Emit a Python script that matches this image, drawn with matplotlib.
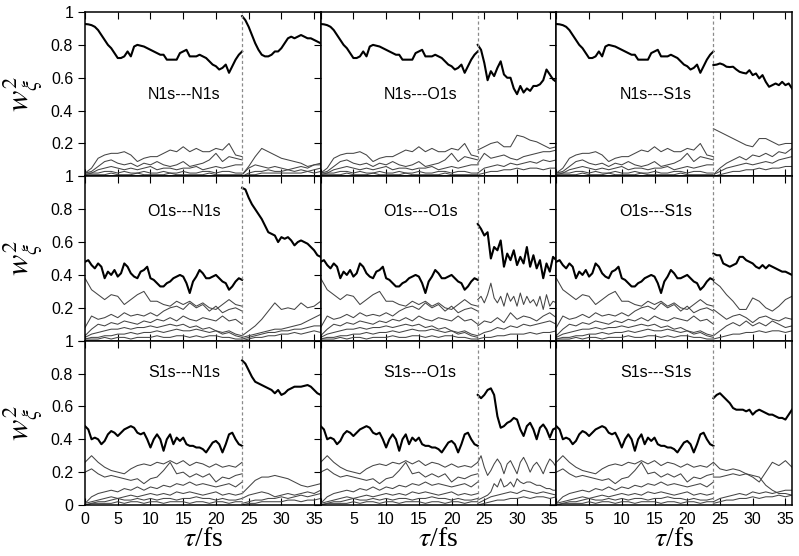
import numpy as np
import matplotlib
matplotlib.use("Agg")
import matplotlib.pyplot as plt

# core-hole pairs: first hole (rows), second hole (columns)
HOLES = ["N1s", "O1s", "S1s"]
T_SWITCH = 24.0
T_END = 36.0

# ---- first hole, 0..24 fs (same curves for every panel in a row) ----
# dominant weight, 0.5 fs steps
n1s_left_main = [0.927, 0.925, 0.92, 0.91, 0.89, 0.86, 0.83, 0.80, 0.78, 0.75,
                 0.72, 0.72, 0.73, 0.76, 0.73, 0.79, 0.80, 0.795, 0.79, 0.78,
                 0.77, 0.76, 0.75, 0.74, 0.74, 0.71, 0.71, 0.71, 0.71, 0.75,
                 0.76, 0.77, 0.73, 0.73, 0.73, 0.74, 0.73, 0.72, 0.70, 0.68,
                 0.67, 0.65, 0.66, 0.68, 0.63, 0.67, 0.71, 0.74, 0.76]
o1s_left_main = [0.48, 0.49, 0.46, 0.44, 0.47, 0.45, 0.38, 0.42, 0.40, 0.43,
                 0.39, 0.41, 0.47, 0.45, 0.41, 0.39, 0.38, 0.42, 0.43, 0.45,
                 0.38, 0.37, 0.35, 0.33, 0.33, 0.35, 0.36, 0.38, 0.39, 0.40,
                 0.39, 0.35, 0.29, 0.36, 0.39, 0.43, 0.41, 0.38, 0.38, 0.39,
                 0.40, 0.38, 0.36, 0.35, 0.31, 0.33, 0.36, 0.38, 0.37]
s1s_left_main = [0.48, 0.46, 0.40, 0.41, 0.40, 0.37, 0.39, 0.43, 0.45, 0.44,
                 0.42, 0.44, 0.46, 0.47, 0.48, 0.47, 0.44, 0.43, 0.44, 0.40,
                 0.35, 0.40, 0.43, 0.40, 0.33, 0.40, 0.43, 0.37, 0.41, 0.39,
                 0.41, 0.37, 0.36, 0.36, 0.35, 0.35, 0.34, 0.32, 0.35, 0.38,
                 0.39, 0.37, 0.32, 0.37, 0.43, 0.44, 0.40, 0.37, 0.36]

# minor weights, 1 fs steps
n1s_left_minor = [
    [0.02, 0.05, 0.11, 0.13, 0.14, 0.14, 0.15, 0.13, 0.09, 0.11, 0.12, 0.12, 0.14,
     0.16, 0.15, 0.18, 0.15, 0.17, 0.15, 0.15, 0.17, 0.16, 0.20, 0.13, 0.12],
    [0.02, 0.03, 0.06, 0.09, 0.10, 0.08, 0.07, 0.08, 0.06, 0.08, 0.07, 0.09, 0.07,
     0.06, 0.07, 0.09, 0.06, 0.07, 0.08, 0.10, 0.14, 0.09, 0.12, 0.11, 0.10],
    [0.02, 0.02, 0.04, 0.05, 0.06, 0.05, 0.04, 0.05, 0.04, 0.05, 0.06, 0.04, 0.05,
     0.05, 0.04, 0.05, 0.05, 0.06, 0.04, 0.05, 0.06, 0.05, 0.06, 0.07, 0.07],
    [0.01, 0.02, 0.02, 0.03, 0.03, 0.02, 0.03, 0.02, 0.02, 0.03, 0.02, 0.02, 0.03,
     0.02, 0.02, 0.03, 0.02, 0.02, 0.03, 0.03, 0.02, 0.03, 0.03, 0.02, 0.02],
    [0.01, 0.01, 0.01, 0.01, 0.02, 0.01, 0.01, 0.01, 0.02, 0.01, 0.01, 0.01, 0.01,
     0.02, 0.01, 0.01, 0.01, 0.01, 0.01, 0.02, 0.01, 0.01, 0.01, 0.01, 0.01],
]
o1s_left_minor = [
    [0.38, 0.31, 0.28, 0.25, 0.28, 0.27, 0.22, 0.25, 0.28, 0.30, 0.24, 0.24, 0.22,
     0.21, 0.24, 0.22, 0.24, 0.21, 0.23, 0.20, 0.19, 0.22, 0.25, 0.22, 0.21],
    [0.08, 0.15, 0.13, 0.14, 0.16, 0.14, 0.17, 0.15, 0.16, 0.15, 0.17, 0.15, 0.18,
     0.20, 0.21, 0.19, 0.23, 0.20, 0.22, 0.18, 0.21, 0.17, 0.19, 0.20, 0.18],
    [0.03, 0.07, 0.10, 0.09, 0.11, 0.10, 0.12, 0.11, 0.10, 0.12, 0.11, 0.13, 0.12,
     0.14, 0.12, 0.15, 0.13, 0.12, 0.14, 0.13, 0.12, 0.15, 0.12, 0.13, 0.10],
    [0.02, 0.04, 0.05, 0.06, 0.07, 0.07, 0.08, 0.07, 0.08, 0.08, 0.09, 0.08, 0.09,
     0.10, 0.09, 0.10, 0.08, 0.09, 0.07, 0.08, 0.06, 0.05, 0.06, 0.04, 0.03],
    [0.01, 0.02, 0.02, 0.03, 0.03, 0.04, 0.04, 0.05, 0.04, 0.05, 0.05, 0.06, 0.05,
     0.06, 0.07, 0.06, 0.06, 0.07, 0.06, 0.05, 0.06, 0.04, 0.05, 0.03, 0.02],
    [0.01, 0.01, 0.01, 0.02, 0.01, 0.02, 0.02, 0.01, 0.02, 0.02, 0.02, 0.03, 0.02,
     0.02, 0.03, 0.03, 0.02, 0.03, 0.02, 0.03, 0.03, 0.02, 0.02, 0.01, 0.01],
]
s1s_left_minor = [
    [0.26, 0.30, 0.26, 0.23, 0.21, 0.20, 0.19, 0.22, 0.24, 0.25, 0.24, 0.26, 0.25,
     0.27, 0.25, 0.27, 0.24, 0.26, 0.25, 0.23, 0.25, 0.23, 0.24, 0.23, 0.26],
    [0.20, 0.22, 0.19, 0.17, 0.18, 0.17, 0.16, 0.15, 0.16, 0.13, 0.16, 0.17, 0.21,
     0.26, 0.19, 0.20, 0.17, 0.19, 0.17, 0.19, 0.14, 0.17, 0.16, 0.18, 0.19],
    [0.01, 0.05, 0.07, 0.08, 0.09, 0.08, 0.10, 0.09, 0.11, 0.09, 0.11, 0.10, 0.12,
     0.11, 0.13, 0.12, 0.14, 0.12, 0.13, 0.12, 0.11, 0.12, 0.13, 0.11, 0.14],
    [0.01, 0.02, 0.03, 0.04, 0.05, 0.04, 0.05, 0.06, 0.05, 0.06, 0.07, 0.06, 0.07,
     0.06, 0.08, 0.07, 0.08, 0.07, 0.06, 0.07, 0.08, 0.06, 0.07, 0.06, 0.07],
    [0.00, 0.01, 0.02, 0.02, 0.03, 0.04, 0.03, 0.03, 0.04, 0.03, 0.04, 0.03, 0.04,
     0.04, 0.03, 0.04, 0.04, 0.05, 0.04, 0.04, 0.03, 0.04, 0.03, 0.03, 0.04],
    [0.00, 0.01, 0.01, 0.01, 0.01, 0.02, 0.01, 0.02, 0.02, 0.01, 0.02, 0.02, 0.01,
     0.02, 0.02, 0.02, 0.01, 0.02, 0.02, 0.01, 0.02, 0.02, 0.01, 0.02, 0.02],
]

# ---- second hole, 24..36 fs (one set per panel) ----
# dominant weight, 0.5 fs steps
nn_right_main = [0.975, 0.95, 0.91, 0.86, 0.81, 0.77, 0.74, 0.73, 0.73, 0.74, 0.76, 0.76, 0.78,
                 0.81, 0.84, 0.85, 0.84, 0.85, 0.86, 0.85, 0.84, 0.84, 0.83, 0.82, 0.81]
no_right_main = [0.80, 0.77, 0.69, 0.585, 0.64, 0.61, 0.66, 0.70, 0.62, 0.60, 0.60, 0.535, 0.50,
                 0.55, 0.51, 0.535, 0.52, 0.55, 0.55, 0.56, 0.585, 0.65, 0.62, 0.59, 0.575]
ns_right_main = [0.677, 0.68, 0.687, 0.68, 0.667, 0.665, 0.667, 0.65, 0.636, 0.63, 0.626, 0.646, 0.616,
                 0.626, 0.596, 0.616, 0.575, 0.545, 0.555, 0.565, 0.555, 0.575, 0.555, 0.565, 0.535]
on_right_main = [0.93, 0.92, 0.87, 0.83, 0.80, 0.77, 0.74, 0.70, 0.66, 0.65, 0.64, 0.60, 0.63,
                 0.62, 0.63, 0.61, 0.58, 0.60, 0.61, 0.60, 0.59, 0.57, 0.55, 0.52, 0.51]
oo_right_main = [0.71, 0.68, 0.64, 0.66, 0.50, 0.57, 0.55, 0.61, 0.45, 0.53, 0.49, 0.55, 0.46,
                 0.51, 0.47, 0.57, 0.45, 0.52, 0.44, 0.49, 0.38, 0.47, 0.42, 0.51, 0.49]
os_right_main = [0.53, 0.52, 0.52, 0.47, 0.46, 0.45, 0.46, 0.47, 0.51, 0.51, 0.49, 0.48, 0.47,
                 0.45, 0.44, 0.46, 0.44, 0.46, 0.45, 0.44, 0.43, 0.42, 0.42, 0.41, 0.40]
sn_right_main = [0.88, 0.86, 0.82, 0.78, 0.75, 0.74, 0.73, 0.72, 0.71, 0.70, 0.68, 0.70, 0.67,
                 0.68, 0.70, 0.71, 0.72, 0.72, 0.72, 0.725, 0.73, 0.72, 0.70, 0.68, 0.67]
so_right_main = [0.67, 0.65, 0.67, 0.70, 0.71, 0.67, 0.54, 0.47, 0.48, 0.50, 0.51, 0.53, 0.52,
                 0.46, 0.42, 0.48, 0.50, 0.46, 0.40, 0.47, 0.49, 0.46, 0.41, 0.46, 0.47]
ss_right_main = [0.65, 0.67, 0.68, 0.66, 0.64, 0.62, 0.59, 0.58, 0.58, 0.58, 0.57, 0.58, 0.55,
                 0.57, 0.58, 0.57, 0.56, 0.55, 0.55, 0.54, 0.53, 0.53, 0.52, 0.55, 0.58]

# minor weights, 1 fs steps (25-long lists are 0.5 fs steps)
nn_right_minor = [
    [0.01, 0.06, 0.12, 0.17, 0.15, 0.13, 0.11, 0.10, 0.09, 0.08, 0.06, 0.07, 0.08],
    [0.01, 0.05, 0.07, 0.06, 0.05, 0.06, 0.05, 0.04, 0.05, 0.06, 0.05, 0.07, 0.07],
    [0.00, 0.02, 0.03, 0.03, 0.04, 0.03, 0.03, 0.04, 0.03, 0.04, 0.03, 0.04, 0.05],
    [0.00, 0.01, 0.01, 0.02, 0.02, 0.02, 0.02, 0.02, 0.02, 0.02, 0.03, 0.02, 0.03],
]
no_right_minor = [
    [0.16, 0.18, 0.20, 0.21, 0.18, 0.18, 0.25, 0.24, 0.22, 0.21, 0.19, 0.17, 0.18],
    [0.08, 0.14, 0.11, 0.12, 0.13, 0.11, 0.10, 0.12, 0.13, 0.14, 0.15, 0.15, 0.16],
    [0.02, 0.05, 0.06, 0.07, 0.06, 0.08, 0.07, 0.08, 0.09, 0.08, 0.10, 0.09, 0.10],
    [0.01, 0.02, 0.03, 0.03, 0.04, 0.04, 0.05, 0.04, 0.05, 0.05, 0.04, 0.05, 0.05],
]
ns_right_minor = [
    [0.29, 0.27, 0.25, 0.23, 0.21, 0.19, 0.18, 0.23, 0.23, 0.21, 0.19, 0.20, 0.20],
    [0.01, 0.05, 0.08, 0.10, 0.12, 0.10, 0.13, 0.12, 0.14, 0.12, 0.15, 0.14, 0.17],
    [0.01, 0.03, 0.05, 0.06, 0.07, 0.08, 0.07, 0.08, 0.09, 0.08, 0.10, 0.11, 0.12],
    [0.00, 0.01, 0.02, 0.03, 0.03, 0.04, 0.04, 0.05, 0.04, 0.05, 0.05, 0.06, 0.06],
]
on_right_minor = [
    [0.03, 0.06, 0.09, 0.13, 0.18, 0.23, 0.19, 0.20, 0.19, 0.23, 0.20, 0.21, 0.24],
    [0.02, 0.03, 0.04, 0.05, 0.06, 0.07, 0.07, 0.08, 0.09, 0.10, 0.12, 0.14, 0.16],
    [0.01, 0.02, 0.03, 0.04, 0.05, 0.05, 0.06, 0.06, 0.07, 0.07, 0.08, 0.09, 0.09],
    [0.00, 0.01, 0.02, 0.02, 0.03, 0.03, 0.04, 0.04, 0.05, 0.04, 0.05, 0.06, 0.05],
]
oo_right_minor = [
    [0.25, 0.27, 0.23, 0.28, 0.35, 0.26, 0.23, 0.27, 0.21, 0.29, 0.24, 0.27, 0.21,
     0.29, 0.22, 0.27, 0.23, 0.25, 0.21, 0.27, 0.19, 0.28, 0.21, 0.24, 0.23],
    [0.09, 0.12, 0.11, 0.14, 0.11, 0.17, 0.13, 0.15, 0.14, 0.12, 0.15, 0.17, 0.14],
    [0.03, 0.05, 0.06, 0.08, 0.07, 0.09, 0.08, 0.10, 0.09, 0.10, 0.11, 0.12, 0.10],
    [0.01, 0.02, 0.02, 0.03, 0.03, 0.04, 0.04, 0.04, 0.05, 0.04, 0.05, 0.05, 0.06],
]
os_right_minor = [
    [0.36, 0.33, 0.28, 0.24, 0.19, 0.19, 0.26, 0.24, 0.20, 0.18, 0.21, 0.25, 0.27],
    [0.19, 0.16, 0.13, 0.15, 0.16, 0.14, 0.11, 0.14, 0.15, 0.13, 0.12, 0.14, 0.13],
    [0.03, 0.06, 0.09, 0.11, 0.09, 0.12, 0.09, 0.11, 0.09, 0.12, 0.10, 0.08, 0.09],
    [0.01, 0.02, 0.03, 0.04, 0.04, 0.05, 0.05, 0.06, 0.05, 0.06, 0.06, 0.05, 0.06],
]
sn_right_minor = [
    [0.07, 0.11, 0.15, 0.17, 0.17, 0.18, 0.17, 0.16, 0.14, 0.12, 0.11, 0.12, 0.13],
    [0.04, 0.06, 0.07, 0.08, 0.07, 0.05, 0.06, 0.07, 0.06, 0.07, 0.08, 0.07, 0.09],
    [0.01, 0.02, 0.03, 0.03, 0.04, 0.04, 0.05, 0.04, 0.05, 0.06, 0.05, 0.06, 0.07],
    [0.00, 0.01, 0.01, 0.02, 0.02, 0.02, 0.02, 0.03, 0.03, 0.02, 0.03, 0.03, 0.04],
]
so_right_minor = [
    [0.26, 0.30, 0.23, 0.18, 0.21, 0.25, 0.28, 0.25, 0.19, 0.25, 0.27, 0.23, 0.19,
     0.26, 0.29, 0.25, 0.20, 0.24, 0.26, 0.23, 0.19, 0.24, 0.28, 0.26, 0.23],
    [0.03, 0.04, 0.05, 0.06, 0.08, 0.13, 0.11, 0.16, 0.11, 0.12, 0.14, 0.11, 0.16,
     0.14, 0.13, 0.14, 0.14, 0.13, 0.12, 0.12, 0.11, 0.10, 0.10, 0.09, 0.09],
    [0.01, 0.03, 0.05, 0.06, 0.07, 0.08, 0.07, 0.09, 0.08, 0.07, 0.08, 0.07, 0.06],
    [0.00, 0.01, 0.02, 0.03, 0.03, 0.04, 0.04, 0.05, 0.04, 0.05, 0.05, 0.04, 0.05],
]
ss_right_minor = [
    [0.26, 0.22, 0.21, 0.22, 0.21, 0.19, 0.17, 0.14, 0.20, 0.26, 0.24, 0.27, 0.23],
    [0.17, 0.17, 0.18, 0.19, 0.18, 0.19, 0.18, 0.17, 0.12, 0.09, 0.07, 0.07, 0.06],
    [0.02, 0.04, 0.05, 0.06, 0.07, 0.06, 0.08, 0.07, 0.08, 0.07, 0.08, 0.09, 0.09],
    [0.01, 0.02, 0.03, 0.03, 0.04, 0.04, 0.05, 0.04, 0.05, 0.05, 0.06, 0.05, 0.06],
]

x_ticks = [0, 5, 10, 15, 20, 25, 30, 35]
y_ticks = [0, 0.2, 0.4, 0.6, 0.8, 1.0]

left_main = {"N1s": n1s_left_main, "O1s": o1s_left_main, "S1s": s1s_left_main}
left_minor = {"N1s": n1s_left_minor, "O1s": o1s_left_minor, "S1s": s1s_left_minor}
right_main = {("N1s", "N1s"): nn_right_main, ("N1s", "O1s"): no_right_main,
              ("N1s", "S1s"): ns_right_main, ("O1s", "N1s"): on_right_main,
              ("O1s", "O1s"): oo_right_main, ("O1s", "S1s"): os_right_main,
              ("S1s", "N1s"): sn_right_main, ("S1s", "O1s"): so_right_main,
              ("S1s", "S1s"): ss_right_main}
right_minor = {("N1s", "N1s"): nn_right_minor, ("N1s", "O1s"): no_right_minor,
               ("N1s", "S1s"): ns_right_minor, ("O1s", "N1s"): on_right_minor,
               ("O1s", "O1s"): oo_right_minor, ("O1s", "S1s"): os_right_minor,
               ("S1s", "N1s"): sn_right_minor, ("S1s", "O1s"): so_right_minor,
               ("S1s", "S1s"): ss_right_minor}

SANS = ["Liberation Sans", "DejaVu Sans"]
plt.rcParams["mathtext.fontset"] = "stix"
plt.rcParams["font.family"] = SANS


def seg_time(t0, t1, vals):
    return np.linspace(t0, t1, len(vals))


fig, axes = plt.subplots(3, 3, figsize=(7.99, 5.56), dpi=100)
fig.subplots_adjust(left=0.1064, right=0.9912, top=0.9784, bottom=0.0917,
                    wspace=0, hspace=0)

label_y = {"N1s": 0.5, "O1s": 0.785, "S1s": 0.805}

for i, first in enumerate(HOLES):
    for j, second in enumerate(HOLES):
        ax = axes[i, j]
        for y in left_minor[first]:
            ax.plot(seg_time(0, T_SWITCH, y), y, color="#454545", lw=0.75)
        for y in right_minor[(first, second)]:
            ax.plot(seg_time(T_SWITCH, T_END, y), y, color="#454545", lw=0.75)
        y = left_main[first]
        ax.plot(seg_time(0, T_SWITCH, y), y, color="black", lw=1.5)
        y = right_main[(first, second)]
        ax.plot(seg_time(T_SWITCH, T_END, y), y, color="black", lw=1.5)
        ax.axvline(T_SWITCH, color="#8a8a8a", lw=0.9, ls=(0, (2.5, 2)))

        ax.text(15.2, label_y[first], f"{first}---{second}", ha="center",
                va="center", fontsize=11.5, family=SANS)

        ax.set_xlim(0, T_END)
        ax.set_ylim(0, 1)
        ax.set_xticks(x_ticks)
        ax.set_yticks(y_ticks)
        ax.tick_params(axis="x", direction="in", top=True, bottom=True,
                       length=5, width=0.8, labelsize=11.5, pad=5)
        ax.tick_params(axis="y", direction="out", left=True, right=False,
                       length=5, width=0.8, labelsize=11.5)
        for s in ax.spines.values():
            s.set_linewidth(1.1)

        if i < 2:
            ax.set_xticklabels([])
        elif j > 0:
            ax.set_xticklabels([""] + [str(v) for v in x_ticks[1:]])
        if j == 0:
            labels = ["0", "0.2", "0.4", "0.6", "0.8", "1"]
            if i < 2:
                labels[0] = ""
            ax.set_yticklabels(labels)
            ax.set_ylabel(r"$w_\xi^2$", fontsize=23, labelpad=4)
        else:
            ax.set_yticklabels([])
        if i == 2:
            ax.set_xlabel(r"$\tau$/fs", fontsize=20, family="Liberation Serif",
                          labelpad=0)

plt.savefig("out.png", dpi=100)
